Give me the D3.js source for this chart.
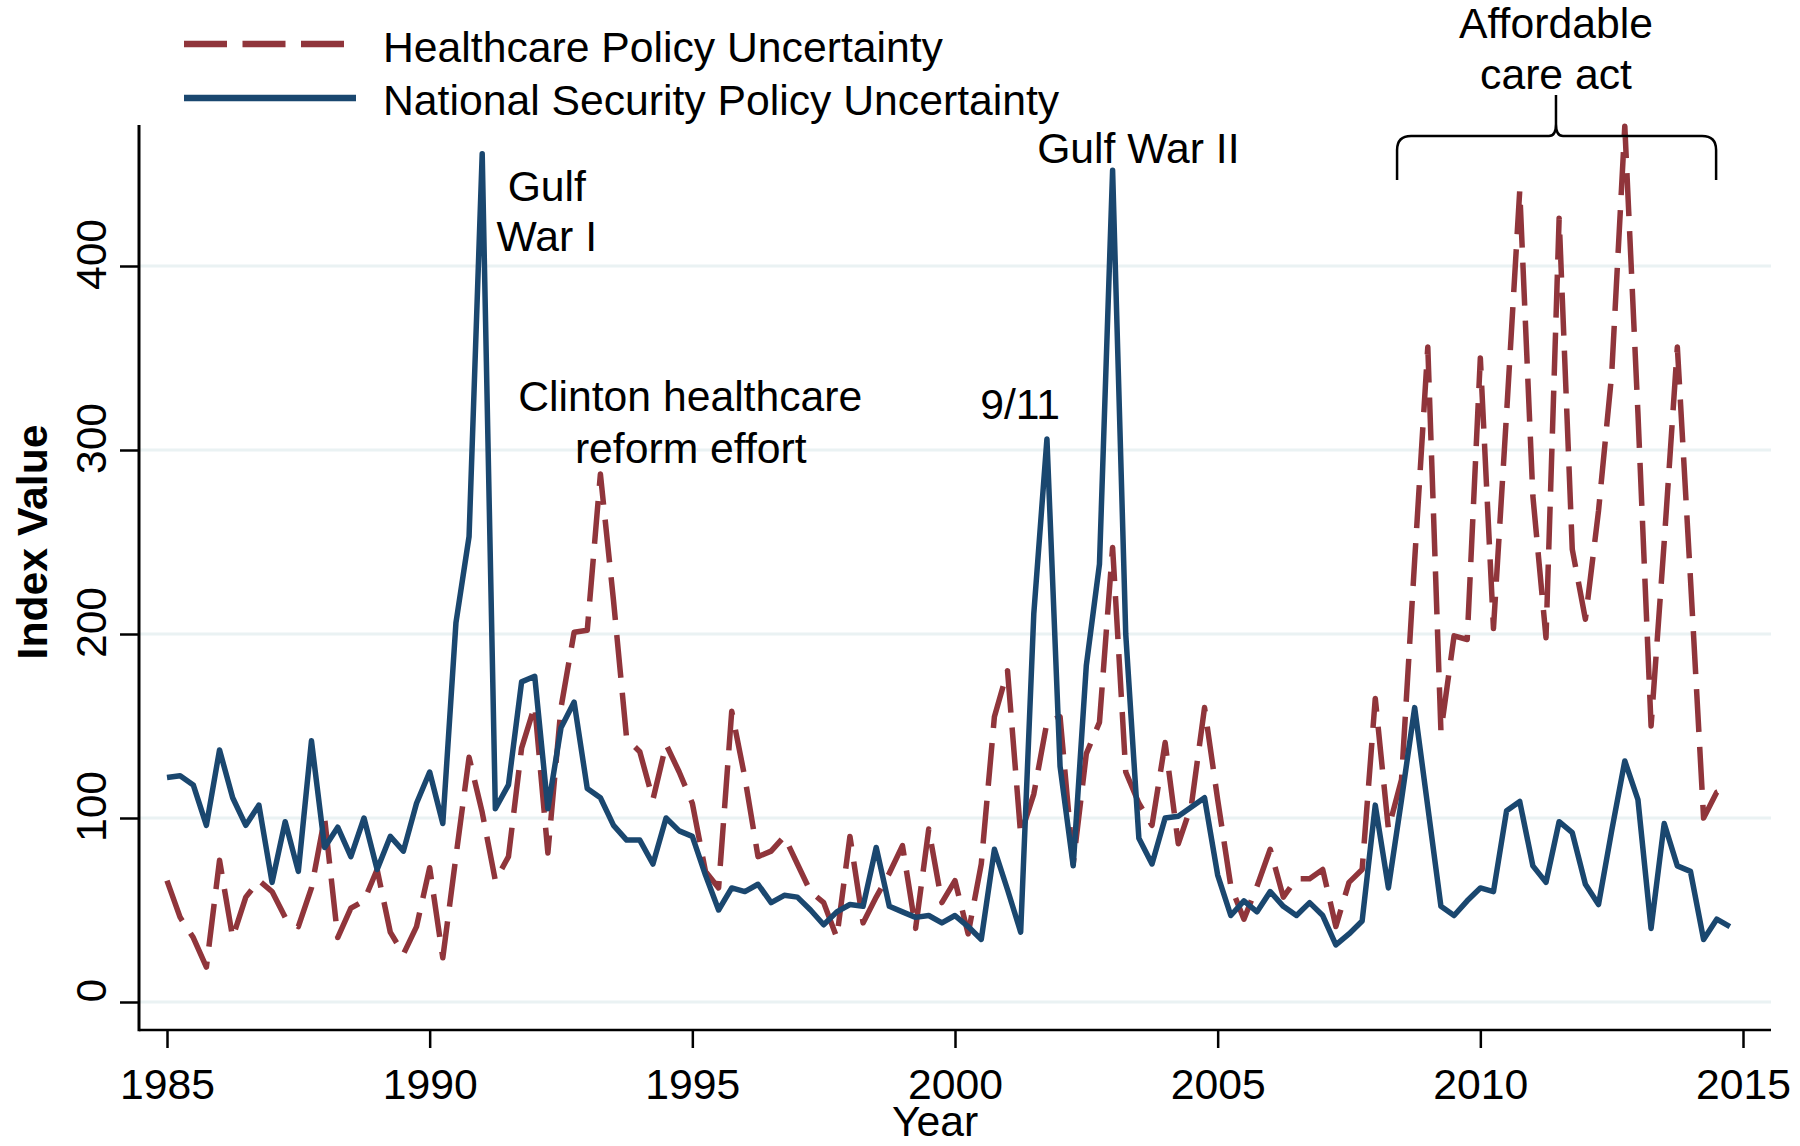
<!DOCTYPE html>
<html><head><meta charset="utf-8">
<script src="https://cdn.jsdelivr.net/npm/d3@7"></script>
<style>
body{margin:0;background:#fff}
svg{display:block}
text{font-family:"Liberation Sans",Arial,Helvetica,sans-serif;font-size:42.7px;fill:#000}
</style>
</head><body>
<svg id="chart" width="1800" height="1146"></svg>
<script>
// Quarterly observations, 1985Q1 .. 2014Q4
const startYear = 1985;
const healthcare = [
  66, 46, 35, 19,   77, 35, 57, 66,   60, 46, 41, 62,   100, 35, 51, 55,   72, 38, 26, 41,
  73, 24, 79, 133,  103, 66, 79, 138, 161, 81, 160, 201, 202, 287, 218, 143, 136, 110, 140, 125,
  108, 71, 62, 158, 122, 79, 82, 90,  75, 60, 54, 35,   90, 43, 57, 70,    85, 40, 94, 54,
  66, 37, 75, 155,  180, 91, 113, 152, 155, 75, 135, 152, 247, 125, 108, 96, 141, 86, 107, 160,
  110, 63, 45, 63,  83, 57, 67, 67,   72, 41, 65, 72,   165, 94, 121, 240, 356, 147, 199, 197,
  350, 203, 320, 441, 275, 198, 426, 246, 208, 267, 341, 476, 320, 150, 250, 356, 230, 100, 114, 117
];
const nationalSecurity = [
  122, 123, 118, 96, 137, 111, 96, 107, 65, 98, 71, 142,  84, 95, 79, 100,  72, 90, 82, 108,
  125, 97, 206, 253, 461, 105, 118, 174, 177, 105, 149, 163, 116, 111, 96, 88, 88, 75, 100, 93,
  90, 69, 50, 62,   60, 64, 54, 58,   57, 50, 42, 49,   53, 52, 84, 52,   49, 46, 47, 43,
  47, 41, 34, 83,   61, 38, 211, 306, 128, 74, 183, 238, 452, 200, 89, 75, 100, 101, 106, 111,
  69, 47, 55, 49,   60, 52, 47, 54,   47, 31, 37, 44,   107, 62, 110, 160, 106, 52, 47, 55,
  62, 60, 104, 109, 74, 65, 98, 92,   64, 53, 93, 131,  110, 40, 97, 74,  71, 34, 45, 41
];
const seriesNames = ["Healthcare Policy Uncertainty", "National Security Policy Uncertainty"];
const xTicks = [1985, 1990, 1995, 2000, 2005, 2010, 2015];
const yTicks = [0, 100, 200, 300, 400];
const annotations = [
  {text: "Gulf", year: 1992.23, value: 435.3},
  {text: "War I", year: 1992.23, value: 408.2},
  {text: "Clinton healthcare", year: 1994.96, value: 321.2},
  {text: "reform effort", year: 1994.97, value: 292.9},
  {text: "9/11", year: 2001.24, value: 316.8},
  {text: "Gulf War II", year: 2003.49, value: 456.0},
  {text: "Affordable", year: 2011.44, value: 523.9},
  {text: "care act", year: 2011.44, value: 496.2}
];
const brace = {from: 2008.415, to: 2014.488, mid: 2011.44, level: 470.7, ends: 446.7, tip: 492.9};

const RED = "#90353B", BLUE = "#1A476F", GRID = "#EAF2F3";
const svg = d3.select("#chart");
const plot = {left: 139, right: 1771, top: 125, bottom: 1030};

const x = d3.scaleLinear().domain([1985, 2015]).range([167, 1743]);
const y = d3.scaleLinear().domain([0, 400]).range([1002, 266]);

// gridlines
svg.append("g").selectAll("line").data(yTicks).join("line")
  .attr("x1", plot.left).attr("x2", plot.right)
  .attr("y1", d => y(d)).attr("y2", d => y(d))
  .attr("stroke", GRID).attr("stroke-width", 3);

// series
const toPts = arr => arr.map((v, i) => ({t: startYear + i / 4, v}));
const line = d3.line().x(d => x(d.t)).y(d => y(d.v));
svg.append("path").datum(toPts(healthcare)).attr("d", line)
  .attr("fill", "none").attr("stroke", RED).attr("stroke-width", 5.5)
  .attr("stroke-dasharray", "43,15").attr("stroke-linejoin", "round");
svg.append("path").datum(toPts(nationalSecurity)).attr("d", line)
  .attr("fill", "none").attr("stroke", BLUE).attr("stroke-width", 5.5)
  .attr("stroke-linejoin", "round");

// axes
const gx = svg.append("g").attr("transform", `translate(0,${plot.bottom})`)
  .call(d3.axisBottom(x).tickValues(xTicks).tickFormat(d3.format("d")).tickSize(18).tickPadding(0));
gx.attr("font-size", null).attr("font-family", null);
gx.select(".domain").remove();
gx.selectAll(".tick line").attr("stroke", "#000").attr("stroke-width", 2.5);
gx.selectAll(".tick text").attr("y", 69).attr("dy", null).attr("fill", "#000");

const gy = svg.append("g").attr("transform", `translate(${plot.left},0)`)
  .call(d3.axisLeft(y).tickValues(yTicks).tickSize(19).tickPadding(0));
gy.attr("font-size", null).attr("font-family", null);
gy.select(".domain").remove();
gy.selectAll(".tick line").attr("stroke", "#000").attr("stroke-width", 2.5);
gy.selectAll(".tick text").attr("x", 0).attr("dy", null).attr("fill", "#000")
  .attr("text-anchor", "middle").attr("transform", "translate(-33,-12) rotate(-90)");

svg.append("line").attr("x1", plot.left).attr("x2", plot.right)
  .attr("y1", plot.bottom).attr("y2", plot.bottom).attr("stroke", "#000").attr("stroke-width", 2.5);
svg.append("line").attr("x1", plot.left).attr("x2", plot.left)
  .attr("y1", plot.top).attr("y2", plot.bottom + 1.25).attr("stroke", "#000").attr("stroke-width", 3);

// axis titles
svg.append("text").attr("transform", "translate(47,542) rotate(-90)")
  .attr("text-anchor", "middle").attr("font-weight", "bold").text("Index Value");
svg.append("text").attr("x", 935).attr("y", 1136).attr("text-anchor", "middle").text("Year");

// legend
const legend = svg.append("g");
legend.append("line").attr("x1", 184).attr("x2", 356).attr("y1", 44).attr("y2", 44)
  .attr("stroke", RED).attr("stroke-width", 6.5).attr("stroke-dasharray", "43,15.5");
legend.append("line").attr("x1", 184).attr("x2", 356).attr("y1", 98).attr("y2", 98)
  .attr("stroke", BLUE).attr("stroke-width", 6.5);
legend.append("text").attr("x", 383).attr("y", 62).text(seriesNames[0]);
legend.append("text").attr("x", 383).attr("y", 115).text(seriesNames[1]);

// annotations
svg.append("g").selectAll("text").data(annotations).join("text")
  .attr("x", d => x(d.year)).attr("y", d => y(d.value))
  .attr("text-anchor", "middle").text(d => d.text);

// brace
const L = x(brace.from), R = x(brace.to), M = x(brace.mid);
const yh = y(brace.level), yb = y(brace.ends), yt = y(brace.tip);
const r = 14, c = 7;
const p = d3.path();
p.moveTo(L, yb); p.lineTo(L, yh + r);
p.quadraticCurveTo(L, yh, L + r, yh);
p.lineTo(M - c, yh);
p.quadraticCurveTo(M, yh, M, yh - 12);
p.lineTo(M, yt);
p.moveTo(M, yh - 12);
p.quadraticCurveTo(M, yh, M + c, yh);
p.lineTo(R - r, yh);
p.quadraticCurveTo(R, yh, R, yh + r);
p.lineTo(R, yb);
svg.append("path").attr("d", p.toString()).attr("fill", "none")
  .attr("stroke", "#000").attr("stroke-width", 2.5);
</script>
</body></html>
